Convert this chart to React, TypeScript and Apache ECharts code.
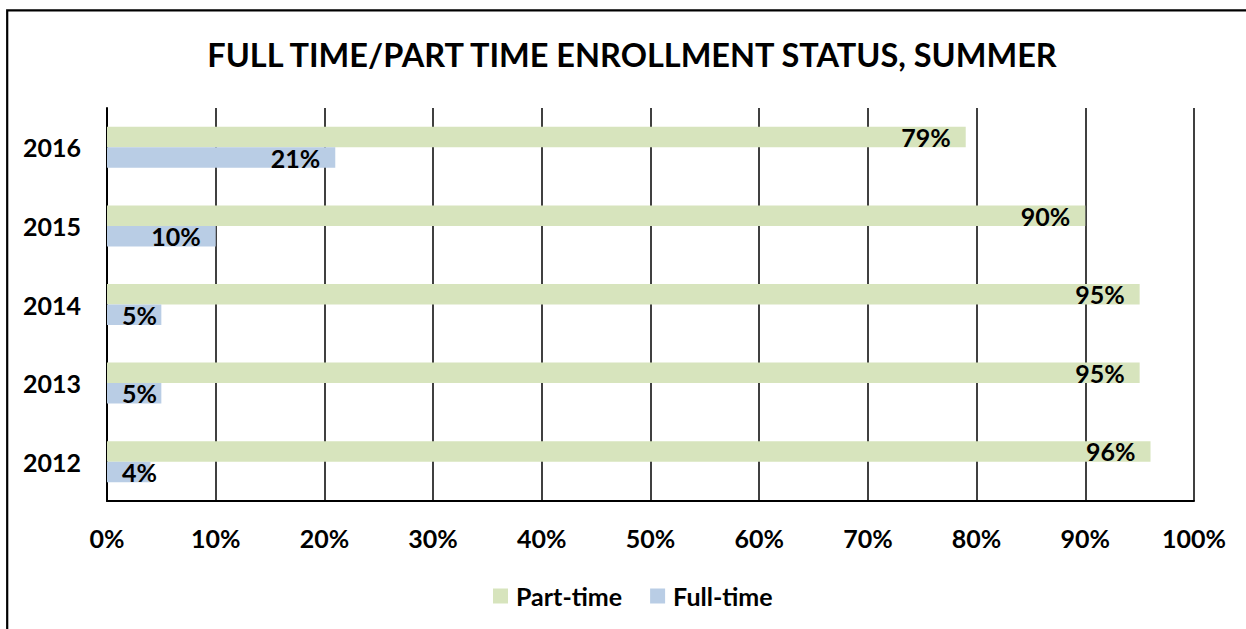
import React, { useEffect, useRef } from "react";
import * as echarts from "echarts";

const titleText = "FULL TIME/PART TIME ENROLLMENT STATUS, SUMMER";
const years = ["2016", "2015", "2014", "2013", "2012"];
const partTime = [79, 90, 95, 95, 96];
const fullTime = [21, 10, 5, 5, 4];
const seriesNames = ["Part-time", "Full-time"];
const xTicks = { min: 0, max: 100, interval: 10 };

const FONT = "Lato";
const GREEN = "#D7E4BD";
const BLUE = "#B9CDE5";
const FS = 25;

function toItems(values: number[]) {
  return values.map((v) =>
    v < 8
      ? { value: v, label: { position: "insideLeft", distance: 15 } }
      : { value: v }
  );
}

export default function App() {
  const ref = useRef<HTMLDivElement>(null);
  useEffect(() => {
    document.body.style.margin = "0";
    document.body.style.overflow = "hidden";
    if (!ref.current) return;
    const chart = echarts.init(ref.current, undefined, { renderer: "svg" });
    const labelStyle = {
      show: true,
      position: "insideRight",
      distance: 15,
      formatter: "{c}%",
      fontFamily: FONT,
      fontWeight: "bold",
      fontSize: FS,
      color: "#000",
    };
    chart.setOption({
      animation: false,
      backgroundColor: "#fff",
      graphic: [
        {
          type: "rect",
          z: -10,
          shape: { x: 7.2, y: 10.3, width: 1300, height: 700 },
          style: { fill: "none", stroke: "#000", lineWidth: 2.2 },
        },
        {
          type: "text",
          x: 632,
          y: 54,
          style: {
            text: titleText,
            textAlign: "center",
            textVerticalAlign: "middle",
            fontFamily: FONT,
            fontWeight: "bold",
            fontSize: 32.5,
            fill: "#000",
          },
        },
      ],
      legend: {
        data: seriesNames,
        left: 493,
        top: 583,
        padding: 0,
        itemWidth: 15,
        itemHeight: 15,
        itemGap: 28,
        icon: "rect",
        textStyle: {
          fontFamily: FONT,
          fontWeight: "bold",
          fontSize: FS,
          lineHeight: 26,
          color: "#000",
          padding: [0, 0, 0, 3],
        },
      },
      grid: { left: 107, right: 52, top: 108, bottom: 128, containLabel: false },
      xAxis: {
        type: "value",
        min: xTicks.min,
        max: xTicks.max,
        interval: xTicks.interval,
        axisLine: { show: true, lineStyle: { color: "#000", width: 2 } },
        axisTick: { show: false },
        splitLine: { show: true, lineStyle: { color: "#000", width: 1.5 } },
        axisLabel: {
          formatter: "{value}%",
          margin: 24,
          fontFamily: FONT,
          fontWeight: "bold",
          fontSize: FS,
          color: "#000",
        },
      },
      yAxis: {
        type: "category",
        data: years,
        inverse: true,
        axisLine: { show: true, lineStyle: { color: "#000", width: 2 } },
        axisTick: { show: false },
        splitLine: { show: false },
        axisLabel: {
          margin: 26,
          fontFamily: FONT,
          fontWeight: "bold",
          fontSize: FS,
          color: "#000",
        },
      },
      series: [
        {
          name: seriesNames[0],
          type: "bar",
          data: toItems(partTime),
          barWidth: 20.5,
          barGap: "0%",
          itemStyle: { color: GREEN },
          label: labelStyle,
        },
        {
          name: seriesNames[1],
          type: "bar",
          data: toItems(fullTime),
          barWidth: 20.5,
          barGap: "0%",
          itemStyle: { color: BLUE },
          label: labelStyle,
        },
      ],
    });
    return () => chart.dispose();
  }, []);
  return <div ref={ref} style={{ width: 1246, height: 629 }} />;
}
